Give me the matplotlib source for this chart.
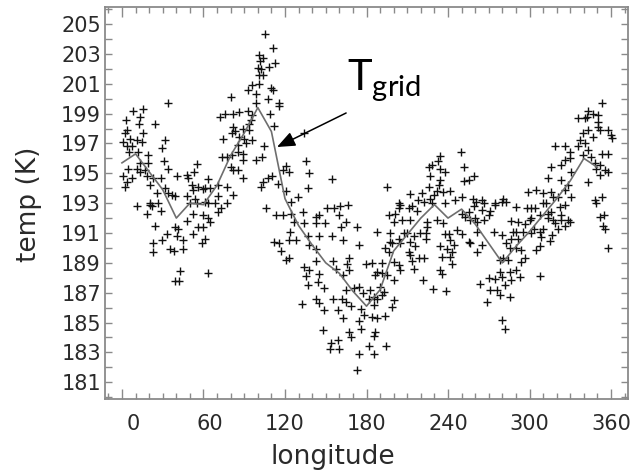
import matplotlib
matplotlib.use("Agg")
import matplotlib.pyplot as plt
import matplotlib.transforms as mtransforms
from matplotlib.ticker import MultipleLocator, FixedLocator
import numpy as np

plt.rcParams["mathtext.fontset"] = "custom"
plt.rcParams["mathtext.rm"] = "Lato"
plt.rcParams["mathtext.it"] = "Lato"

# ---------------- data ----------------
grid_lon = [0, 10, 20, 30, 40, 50, 60, 70, 80, 90, 100, 110, 120, 130, 140, 150, 160, 170,
            180, 190, 200, 210, 220, 230, 240, 250, 260, 270, 280, 290, 300, 310, 320, 330, 340, 350]
grid_temp = [195.7, 196.3, 195.1, 193.9, 192.0, 193.0, 192.9, 194.2, 196.2, 197.7, 199.4, 197.8,
             193.3, 191.5, 190.2, 189.0, 188.3, 187.1, 186.1, 187.2, 189.8, 190.9, 192.0, 192.9,
             192.0, 192.6, 191.6, 190.3, 189.0, 190.1, 191.1, 192.2, 193.3, 194.5, 196.0, 195.4]

obs_lon = [
    80.3, 34.1, 8.4, 15.2, 13.3, 2.7, 24.3, 72.2, 75.9, 82.0, 12.8, 3.5, 15.7, 2.2, 82.0, 83.2, 80.8,
    1.0, 5.9, 10.8, 14.5, 31.7, 74.6, 3.5, 7.1, 29.2, 11.6, 5.2, 19.4, 73.4, 77.1, 80.8, 19.4, 31.2,
    13.3, 4.7, 10.8, 13.3, 17.0, 34.1, 55.0, 80.3, 82.0, 1.0, 3.5, 7.1, 18.2, 23.1, 28.7, 40.3, 47.6,
    53.3, 48.9, 2.2, 20.6, 31.7, 51.3, 56.2, 61.1, 63.6, 71.0, 77.1, 25.5, 34.1, 52.5, 59.9, 64.8,
    36.6, 39.0, 47.6, 53.8, 71.0, 82.0, 61.1, 68.5, 20.6, 26.8,
    10.8, 20.6, 18.2, 21.9, 28.7, 24.3, 32.9, 39.0, 41.5, 40.3, 47.6, 52.5, 50.1, 55.0, 59.9, 63.6,
    64.8, 71.0, 72.9, 77.1, 55.7, 59.9, 52.5, 61.1, 58.7, 29.2, 22.6, 22.6, 35.4, 38.6, 44.7, 44.7,
    42.7, 39.0, 42.0, 63.6, 63.6,
    105.5, 110.9, 101.1, 103.5, 101.6, 108.4, 112.9, 99.9, 102.3, 100.6, 104.0, 95.7, 101.1, 92.5,
    98.6, 109.7, 110.9, 107.2, 115.3, 115.3, 98.6, 85.9, 92.5, 109.2, 95.7, 93.7, 94.9, 112.1, 134.2,
    88.8, 93.7, 86.4, 90.0, 95.7, 91.3, 85.1, 85.1, 88.8, 104.8, 88.8, 98.6, 103.0, 135.4, 120.7,
    123.2, 118.3, 137.4, 85.1, 88.8, 110.4, 107.2, 103.5, 102.3, 114.6, 154.6, 136.7, 120.7, 129.3,
    124.4,
    106.0, 113.4, 118.3, 124.4, 126.9, 134.2, 133.0, 142.8, 144.8, 149.7, 150.7, 155.8, 160.7, 166.1,
    142.8, 160.0, 164.9, 161.2, 172.8, 123.7, 112.1, 115.8, 123.2, 128.1, 136.7, 145.3, 154.6, 162.4,
    174.7, 117.0, 137.4, 142.8, 123.2, 120.7, 142.8, 155.6, 167.4, 165.6, 167.4, 179.6, 134.2, 137.4,
    144.8, 135.4, 144.0, 157.5, 162.4, 136.7, 149.0, 164.9, 171.0, 174.7, 177.7, 132.5, 142.8, 145.3,
    155.1, 162.0, 164.9, 168.6, 149.0, 158.8, 175.9, 178.4, 162.4, 174.7, 175.9, 167.4, 148.2, 153.9,
    158.8, 153.1, 160.0, 168.6, 174.2, 173.0,
    205.0, 203.7, 196.4, 201.3, 200.0, 206.2, 212.3, 211.1, 213.5, 217.2, 222.1, 228.3, 238.1, 231.9,
    236.4, 224.6, 224.6, 224.1, 224.1, 219.7, 214.8, 216.0, 212.3, 213.5, 207.4, 209.9, 211.1, 212.3,
    204.9, 203.7, 197.6, 197.1, 198.8, 193.9, 196.4, 187.8, 200.0, 203.7, 204.9, 214.8, 218.4, 222.1,
    191.4, 184.1, 187.8, 191.4, 195.1, 200.0, 186.5, 182.9, 185.3, 187.8, 191.4, 192.7, 190.2, 198.8,
    200.0, 181.6, 185.3, 184.1, 187.8, 193.9, 186.5, 185.3, 181.6, 185.3, 194.6, 221.6, 229.0, 238.8,
    234.4, 235.6, 235.6, 234.4, 238.1, 240.5, 241.8, 243.0, 241.3, 244.2, 243.0, 239.3, 246.7, 250.4,
    250.4, 252.8, 256.5, 255.3, 259.0, 266.3, 265.1, 260.2, 261.4, 266.3, 270.0, 255.3, 256.5, 261.4,
    261.4, 265.1, 273.7, 263.9, 270.0, 274.9, 270.7, 276.1, 268.8, 274.9, 271.2,
    234.4, 249.6, 232.7, 228.3, 225.8, 233.9, 238.1, 252.1, 226.5, 234.4, 251.6, 255.3, 258.9, 233.2,
    225.8, 195.1, 211.8, 220.9, 229.5, 232.0, 236.4, 241.8, 250.4, 258.5, 265.1, 203.7, 227.0,
    217.9, 245.0, 260.9, 274.4,
    353.0, 343.1, 346.8, 350.5, 335.8, 340.7, 350.5, 351.7, 343.1, 357.8, 359.8, 346.8, 318.6, 326.0,
    335.8, 340.7, 343.1, 353.0, 357.8, 329.6, 339.4, 345.6, 348.0, 316.1, 323.0, 326.0, 313.7, 323.5,
    330.8, 343.1, 351.7, 355.4, 357.8, 349.3, 298.9, 305.1, 310.0, 316.1, 326.0, 321.0, 348.0, 280.5,
    317.4, 328.4, 330.9, 353.0, 337.0, 329.7, 339.5, 360.4, 342.0, 350.5, 351.8,
    279.4, 283.0, 290.4, 297.8, 301.4, 303.9, 310.0, 312.5, 307.6, 313.7, 322.3, 326.0, 323.5, 328.4,
    329.7, 323.5, 318.6, 321.1, 326.0, 313.7, 301.4, 300.2, 296.5, 291.6, 286.2, 288.0, 290.4, 295.3,
    301.4, 303.4, 307.6, 310.0, 308.8, 316.2, 315.0, 305.1, 307.6, 279.4, 283.0, 286.7, 291.6, 290.4,
    294.1, 296.5, 293.6, 285.5, 284.3, 280.6, 278.1, 278.1, 279.4, 285.5, 286.7, 290.4, 292.9, 281.8,
    278.1, 285.5, 279.4, 282.3, 307.6, 349.3, 351.7, 355.0, 354.2, 355.4, 357.9, 316.1, 317.3,
]
obs_temp = [
    200.1, 199.7, 199.2, 199.3, 198.8, 198.6, 198.3, 198.8, 199.0, 199.0, 198.3, 197.9, 197.7, 197.7,
    198.1, 197.8, 197.7, 197.1, 197.3, 197.2, 197.1, 197.2, 197.3, 196.85, 196.8, 196.7, 196.45, 196.45,
    196.2, 196.1, 196.1, 196.2, 195.7, 195.8, 195.7, 195.3, 195.3, 195.1, 195.2, 195.3, 195.6, 195.4,
    195.2, 194.8, 194.4, 194.7, 194.8, 194.7, 194.7, 194.8, 194.9, 195.1, 194.7, 194.1, 194.2, 194.0,
    194.2, 194.1, 194.0, 194.6, 194.2, 194.1, 193.7, 193.7, 193.9, 193.95, 194.0, 193.55, 193.45,
    193.45, 193.3, 193.45, 193.55, 193.1, 193.0, 193.0, 193.0,
    192.8, 192.9, 192.3, 192.8, 192.5, 191.5, 190.9, 191.4, 191.3, 190.8, 191.8, 192.3, 193.0, 193.0,
    192.2, 192.0, 191.76, 192.4, 192.7, 193.0, 191.4, 191.4, 190.9, 190.6, 190.3, 190.5, 190.3, 189.7,
    189.9, 189.8, 190.5, 189.9, 188.45, 187.8, 187.8, 188.3, 193.0,
    204.3, 203.4, 202.9, 202.7, 202.5, 202.1, 202.4, 202.07, 202.0, 201.6, 201.6, 200.9, 201.0, 200.6,
    200.3, 200.7, 200.6, 199.95, 199.7, 199.5, 199.7, 199.1, 199.2, 199.0, 198.9, 198.3, 198.6, 198.2,
    197.7, 198.0, 197.9, 197.45, 197.3, 197.2, 197.0, 196.9, 196.45, 196.3, 196.8, 195.9, 195.9, 196.1,
    195.8, 195.5, 195.1, 195.2, 195.0, 195.2, 194.7, 194.8, 194.7, 194.4, 194.1, 194.3, 194.6, 194.0,
    193.8, 193.4, 193.1,
    192.7, 192.2, 192.2, 192.3, 191.76, 191.7, 192.4, 192.1, 192.2, 191.7, 192.65, 192.7, 192.8, 192.9,
    191.65, 192.2, 191.76, 191.4, 191.4, 191.1, 190.4, 190.35, 190.5, 190.5, 190.8, 190.8, 190.8, 190.5,
    190.2, 189.8, 190.2, 189.9, 189.3, 189.2, 189.1, 189.1, 189.3, 188.9, 188.5, 188.9, 188.75, 188.5,
    188.25, 188.1, 187.7, 188.6, 188.2, 187.5, 187.3, 187.2, 187.3, 187.4, 187.0, 186.25, 186.6, 186.3,
    186.6, 186.6, 186.4, 186.1, 185.85, 185.85, 185.9, 185.5, 185.3, 185.1, 184.6, 184.4, 184.5, 183.6,
    183.8, 183.2, 183.2, 184.0, 182.9, 181.8,
    192.9, 192.65, 192.2, 192.3, 191.76, 191.9, 191.9, 192.65, 192.8, 192.5, 193.1, 193.03, 192.99,
    191.87, 191.7, 191.76, 191.4, 191.0, 190.6, 191.0, 190.8, 190.1, 190.4, 189.15, 190.98, 190.98,
    189.75, 189.5, 190.3, 190.6, 191.0, 190.4, 190.3, 189.97, 189.75, 191.1, 189.08, 188.86, 188.5,
    188.57, 189.3, 189.3, 188.97, 188.97, 188.4, 188.3, 188.2, 187.85, 188.2, 187.2, 186.7, 186.6,
    186.85, 187.07, 187.4, 186.07, 186.5, 186.6, 186.2, 185.4, 185.3, 185.44, 184.4, 184.1, 183.4,
    182.9, 183.4, 187.85, 187.23, 187.14, 188.5, 188.25, 189.4, 190.1, 190.9, 190.9, 190.5, 189.75,
    189.4, 190.2, 188.9, 189.9, 191.2, 190.9, 192.3, 192.1, 191.9, 192.4, 192.8, 192.99, 192.54, 191.98,
    191.76, 191.87, 192.2, 190.4, 190.3, 189.75, 191.1, 190.2, 191.1, 187.6, 187.97, 187.9, 187.2,
    187.2, 186.4, 192.9, 192.5,
    196.18, 196.45, 195.8, 195.56, 195.4, 195.3, 195.1, 195.4, 194.84, 194.55, 194.5, 194.55, 194.8,
    194.2, 194.1, 194.1, 193.6, 193.66, 193.55, 193.8, 193.77, 193.8, 193.4, 193.3, 193.2, 192.99,
    193.3, 193.2, 193.2, 193.1, 193.0,
    199.68, 199.2, 199.0, 198.9, 198.7, 198.7, 198.1, 197.9, 197.9, 197.9, 197.56, 197.45, 196.8, 196.8,
    196.8, 197.0, 196.56, 196.3, 196.3, 196.44, 196.2, 196.1, 195.66, 195.4, 195.55, 195.9, 194.66,
    194.55, 195.1, 194.4, 194.9, 195.2, 195.1, 195.3, 193.77, 193.9, 193.65, 193.77, 193.9, 193.4,
    193.2, 193.25,
    193.4, 194.2, 193.4, 193.4, 197.23, 196.0, 197.7, 197.34, 198.8, 198.46, 195.55,
    193.1, 193.1, 192.76, 192.7, 192.65, 192.65, 192.99, 192.99, 192.2, 192.3, 192.76, 192.9, 192.2,
    191.87, 191.76, 191.87, 191.65, 191.25, 191.5, 191.98, 191.98, 191.87, 191.6, 191.76, 191.8, 191.1,
    191.1, 191.1, 190.98, 191.3, 191.1, 191.25, 190.75, 190.86, 190.48, 189.86, 190.1, 190.86, 190.3,
    190.6, 190.6, 189.97, 189.86, 189.3, 189.08, 189.97, 189.2, 189.3, 189.2, 188.4, 188.08, 188.4,
    187.85, 188.5, 188.08, 187.5, 186.85, 186.7, 185.2, 184.6, 188.12, 192.99, 192.1, 192.2, 191.47,
    191.3, 189.97, 192.4, 191.87,
]

x_ticks = [0, 60, 120, 180, 240, 300, 360]
y_ticks = [181, 183, 185, 187, 189, 191, 193, 195, 197, 199, 201, 203, 205]

# ---------------- figure ----------------
W, H = 638, 472
fig = plt.figure(figsize=(W / 100, H / 100), dpi=100)
ax = fig.add_axes([105 / W, 1 - 399 / H, 523 / W, 392 / H])

spine_col = "#8a8a8a"
ax.plot(obs_lon, obs_temp, linestyle="none", marker="+", markersize=5.2,
        markeredgewidth=1.0, color="#111111", zorder=2)
ax.plot(grid_lon, grid_temp, color="#6e6e6e", linewidth=1.2, zorder=3)

ax.set_xlim(-12.5, 372.5)
ax.set_ylim(179.88, 206.14)

ax.xaxis.set_major_locator(FixedLocator(x_ticks))
ax.xaxis.set_minor_locator(MultipleLocator(10))
ax.yaxis.set_major_locator(FixedLocator(y_ticks))
ax.yaxis.set_minor_locator(MultipleLocator(1))
ax.set_xticklabels([str(v) for v in x_ticks])
ax.set_yticklabels([str(v) for v in y_ticks])

for s in ax.spines.values():
    s.set_color(spine_col)
    s.set_linewidth(1.3)

ax.tick_params(which="both", direction="in", top=True, right=True, color=spine_col,
               width=1.0, labelsize=15, labelcolor="#2a2a2a")
ax.tick_params(axis="x", which="major", length=7, pad=11)
ax.tick_params(axis="x", which="minor", length=4)
ax.tick_params(axis="y", which="major", length=5, pad=3)
ax.tick_params(axis="y", which="minor", length=5)

ax.set_xlabel("longitude", fontsize=19, color="#2a2a2a")
ax.set_ylabel("temp (K)", fontsize=19, color="#2a2a2a")
ax.xaxis.set_label_coords(0.436, -0.115)
ax.yaxis.set_label_coords(-0.12, 0.497)

# shift first two x tick labels slightly right, as in the reference
shifts = {0: 11, 60: 6}
for tick, v in zip(ax.xaxis.get_major_ticks(), x_ticks):
    if v in shifts:
        off = mtransforms.ScaledTranslation(shifts[v] / 100, 0, fig.dpi_scale_trans)
        tick.label1.set_transform(tick.label1.get_transform() + off)

# annotation T_grid
ax.annotate("", xy=(114.1, 196.76), xytext=(165.0, 199.04),
            arrowprops=dict(arrowstyle="-|>,head_length=1.1,head_width=0.45",
                            mutation_scale=10, color="black", lw=1.1,
                            shrinkA=0, shrinkB=0), zorder=5)
ax.text(165.5, 200.58, r"T$_{\mathrm{grid}}$", fontsize=30, family="Lato",
        ha="left", va="baseline", color="black")

fig.savefig("out.png", dpi=100)
